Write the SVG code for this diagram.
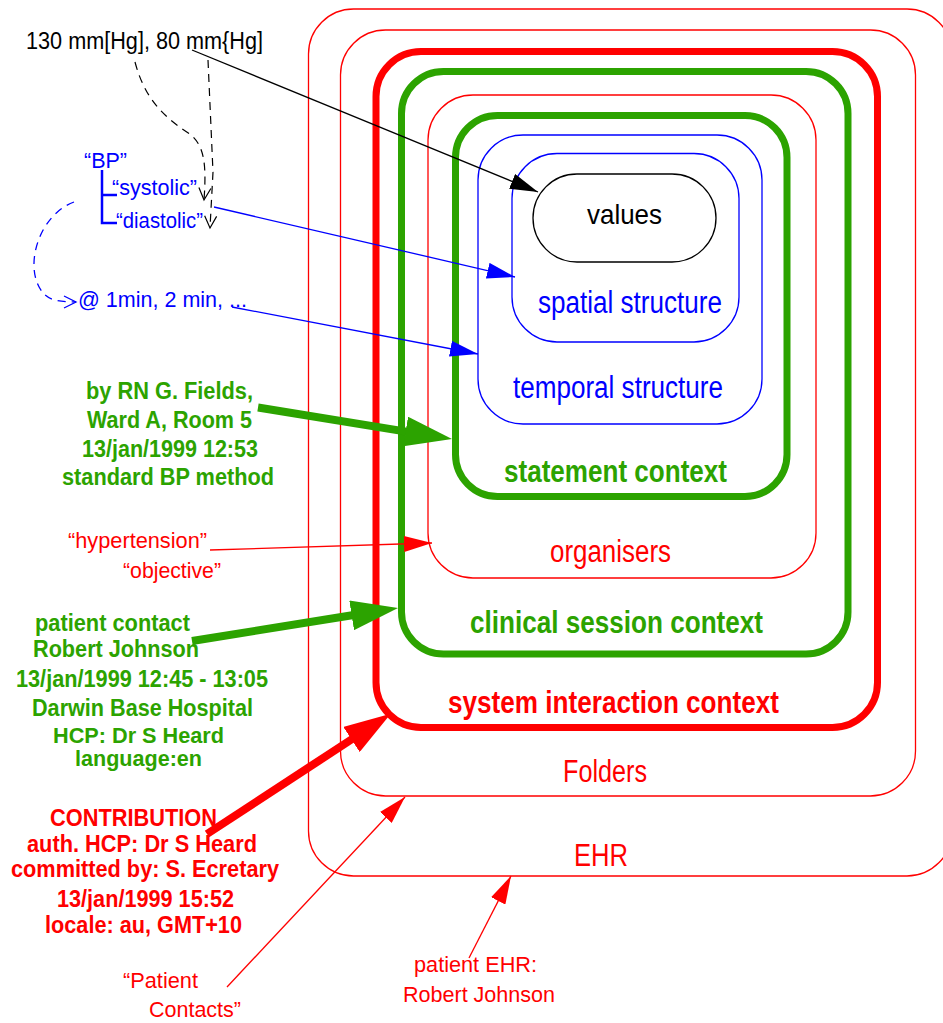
<svg xmlns="http://www.w3.org/2000/svg" width="943" height="1023" viewBox="0 0 943 1023">
<style>
text{font-family:"Liberation Sans Narrow","Arial Narrow","Liberation Sans",Arial,sans-serif;}
.s23{font-size:23px}
.s22{font-size:22px}
.s29{font-size:31px}
.b{font-weight:bold}
.red{fill:#ff0000}
.grn{fill:#2ca300}
.blu{fill:#0000ff}
.blk{fill:#000000}
.box{fill:none}
.thinR{stroke:#ff0000;stroke-width:1.3}
.thickR{stroke:#ff0000;stroke-width:7}
.thickG{stroke:#2ca300;stroke-width:7}
.thinB{stroke:#0000ff;stroke-width:1.3}
.thinK{stroke:#000;stroke-width:1.3}
.ln{fill:none}
.dash{stroke-dasharray:8 6}
</style>
<defs>
<marker id="ahK" markerUnits="userSpaceOnUse" markerWidth="28" markerHeight="16" viewBox="0 0 28 16" refX="28" refY="8" orient="auto"><path d="M0,0 L28,8 L0,16 z" fill="#000"/></marker>
<marker id="ahB" markerUnits="userSpaceOnUse" markerWidth="28" markerHeight="16" viewBox="0 0 28 16" refX="28" refY="8" orient="auto"><path d="M0,0 L28,8 L0,16 z" fill="#0000ff"/></marker>
<marker id="ahR" markerUnits="userSpaceOnUse" markerWidth="28" markerHeight="16" viewBox="0 0 28 16" refX="28" refY="8" orient="auto"><path d="M0,0 L28,8 L0,16 z" fill="#ff0000"/></marker>
<marker id="bigG" markerUnits="userSpaceOnUse" markerWidth="47" markerHeight="30" viewBox="0 0 47 30" refX="10" refY="15" orient="auto"><path d="M0,0 L47,15 L0,30 z" fill="#2ca300"/></marker>
<marker id="bigR" markerUnits="userSpaceOnUse" markerWidth="47" markerHeight="30" viewBox="0 0 47 30" refX="10" refY="15" orient="auto"><path d="M0,0 L47,15 L0,30 z" fill="#ff0000"/></marker>
<marker id="vK" markerUnits="userSpaceOnUse" markerWidth="14" markerHeight="14" viewBox="-1 -7 14 14" refX="12" refY="0" orient="auto" style="overflow:visible"><path d="M0,-6 L12,0 L0,6" fill="none" stroke="#000" stroke-width="1.2"/></marker>
<marker id="vB" markerUnits="userSpaceOnUse" markerWidth="14" markerHeight="14" viewBox="-1 -7 14 14" refX="12" refY="0" orient="auto" style="overflow:visible"><path d="M0,-6 L12,0 L0,6" fill="none" stroke="#0000ff" stroke-width="1.3"/></marker>
</defs>
<rect width="943" height="1023" fill="#fff"/>

<g id="ehr">
<rect class="box thinR" x="308.5" y="9" width="643.5" height="867" rx="45"/>
<text class="s29 red" x="574" y="866" textLength="54" lengthAdjust="spacingAndGlyphs">EHR</text>
</g>
<g id="folders">
<rect class="box thinR" x="340.5" y="30" width="575" height="766" rx="45"/>
<text class="s29 red" x="563" y="782" textLength="84" lengthAdjust="spacingAndGlyphs">Folders</text>
</g>
<g id="system-interaction-context">
<rect class="box thickR" x="376" y="51.5" width="501.5" height="676" rx="45"/>
<text class="s29 b red" x="448" y="713" textLength="331" lengthAdjust="spacingAndGlyphs">system interaction context</text>
</g>
<g id="clinical-session-context">
<rect class="box thickG" x="401.5" y="71.5" width="446.5" height="582.5" rx="42"/>
<text class="s29 b grn" x="470" y="633" textLength="293" lengthAdjust="spacingAndGlyphs">clinical session context</text>
</g>
<g id="organisers">
<rect class="box thinR" x="428" y="95" width="388" height="483" rx="45"/>
<text class="s29 red" x="550" y="562" textLength="121" lengthAdjust="spacingAndGlyphs">organisers</text>
</g>
<g id="statement-context">
<rect class="box thickG" x="455.5" y="115.5" width="331.5" height="381" rx="42"/>
<text class="s29 b grn" x="504" y="482" textLength="223" lengthAdjust="spacingAndGlyphs">statement context</text>
</g>
<g id="temporal-structure">
<rect class="box thinB" x="478" y="135" width="284" height="289" rx="45"/>
<text class="s29 blu" x="513" y="398" textLength="210" lengthAdjust="spacingAndGlyphs">temporal structure</text>
</g>
<g id="spatial-structure">
<rect class="box thinB" x="512" y="153.5" width="227" height="188.5" rx="45"/>
<text class="s29 blu" x="538" y="313" textLength="184" lengthAdjust="spacingAndGlyphs">spatial structure</text>
</g>
<g id="values">
<rect class="box thinK" x="533" y="174" width="183" height="88" rx="44"/>
<text class="blk" style="font-size:28px" x="587" y="224" textLength="75" lengthAdjust="spacingAndGlyphs">values</text>
</g>

<g id="value-label">
<text class="s23 blk" x="26" y="49" textLength="237" lengthAdjust="spacingAndGlyphs">130 mm[Hg], 80 mm{Hg]</text>
</g>
<g id="bp-tree">
<path d="M102,170 L102,223 L117,223 M102,195 L117,195" fill="none" stroke="#0000ff" stroke-width="2.5"/>
<text class="s22 blu" x="84" y="168" textLength="43" lengthAdjust="spacingAndGlyphs">“BP”</text>
<text class="s22 blu" x="112" y="195" textLength="85" lengthAdjust="spacingAndGlyphs">“systolic”</text>
<text class="s22 blu" x="116" y="228" textLength="87" lengthAdjust="spacingAndGlyphs">“diastolic”</text>
</g>
<g id="time-label">
<text class="s22 blu" x="78" y="307" textLength="169" lengthAdjust="spacingAndGlyphs">@ 1min, 2 min, ...</text>
</g>
<g id="statement-info">
<text class="s23 b grn" x="86" y="399" textLength="167" lengthAdjust="spacingAndGlyphs">by RN G. Fields,</text>
<text class="s23 b grn" x="87" y="428" textLength="165" lengthAdjust="spacingAndGlyphs">Ward A, Room 5</text>
<text class="s23 b grn" x="82" y="457" textLength="176" lengthAdjust="spacingAndGlyphs">13/jan/1999 12:53</text>
<text class="s23 b grn" x="62" y="485" textLength="212" lengthAdjust="spacingAndGlyphs">standard BP method</text>
</g>
<g id="organiser-info">
<text class="s22 red" x="68" y="548" textLength="139" lengthAdjust="spacingAndGlyphs">“hypertension”</text>
<text class="s22 red" x="123" y="578" textLength="98" lengthAdjust="spacingAndGlyphs">“objective”</text>
</g>
<g id="session-info">
<text class="s23 b grn" x="35" y="631" textLength="155" lengthAdjust="spacingAndGlyphs">patient contact</text>
<text class="s23 b grn" x="33" y="657" textLength="166" lengthAdjust="spacingAndGlyphs">Robert Johnson</text>
<text class="s23 b grn" x="16" y="687" textLength="252" lengthAdjust="spacingAndGlyphs">13/jan/1999 12:45 - 13:05</text>
<text class="s23 b grn" x="32" y="716" textLength="221" lengthAdjust="spacingAndGlyphs">Darwin Base Hospital</text>
<text class="s22 b grn" x="53" y="743" textLength="171" lengthAdjust="spacingAndGlyphs">HCP: Dr S Heard</text>
<text class="s22 b grn" x="75" y="766" textLength="127" lengthAdjust="spacingAndGlyphs">language:en</text>
</g>
<g id="contribution-info">
<text class="s23 b red" x="50" y="826" textLength="167" lengthAdjust="spacingAndGlyphs">CONTRIBUTION</text>
<text class="s23 b red" x="27" y="852" textLength="230" lengthAdjust="spacingAndGlyphs">auth. HCP: Dr S Heard</text>
<text class="s23 b red" x="11" y="877" textLength="268" lengthAdjust="spacingAndGlyphs">committed by: S. Ecretary</text>
<text class="s23 b red" x="57" y="907" textLength="177" lengthAdjust="spacingAndGlyphs">13/jan/1999 15:52</text>
<text class="s23 b red" x="45" y="933" textLength="197" lengthAdjust="spacingAndGlyphs">locale: au, GMT+10</text>
</g>
<g id="folder-info">
<text class="s22 red" x="123" y="988" textLength="75" lengthAdjust="spacingAndGlyphs">“Patient</text>
<text class="s22 red" x="149" y="1017" textLength="92" lengthAdjust="spacingAndGlyphs">Contacts”</text>
</g>
<g id="ehr-info">
<text class="s22 red" x="414" y="972" textLength="123" lengthAdjust="spacingAndGlyphs">patient EHR:</text>
<text class="s22 red" x="403" y="1002" textLength="152" lengthAdjust="spacingAndGlyphs">Robert Johnson</text>
</g>

<g id="connectors">
<path class="ln dash" stroke="#000" stroke-width="1.2" d="M135,62 C145,100 165,118 190,134 C203,145 207,160 204,200" marker-end="url(#vK)"/>
<path class="ln dash" stroke="#000" stroke-width="1.2" d="M208,60 L213,172 L210,228" marker-end="url(#vK)"/>
<path class="ln dash" stroke="#0000ff" stroke-width="1.3" d="M74,202 C38,215 22,270 44,294 C50,300 58,302 76,302" marker-end="url(#vB)"/>
<path class="ln thinK" d="M192,50 L538,192" marker-end="url(#ahK)"/>
<path class="ln thinB" d="M214,207 L515,277" marker-end="url(#ahB)"/>
<path class="ln thinB" d="M232,307 L478,354" marker-end="url(#ahB)"/>
<path class="ln thinR" d="M210,550 L432,543" marker-end="url(#ahR)"/>
<path class="ln thinR" d="M227,987 L405,797" marker-end="url(#ahR)"/>
<path class="ln thinR" d="M469,958 L511,876" marker-end="url(#ahR)"/>
<path class="ln" stroke="#2ca300" stroke-width="8" d="M258,407.5 L415.5,433.1" marker-end="url(#bigG)"/>
<path class="ln" stroke="#2ca300" stroke-width="8" d="M192,641 L361.5,613.8" marker-end="url(#bigG)"/>
<path class="ln" stroke="#ff0000" stroke-width="8" d="M207,834 L359.8,734" marker-end="url(#bigR)"/>
</g>
</svg>
